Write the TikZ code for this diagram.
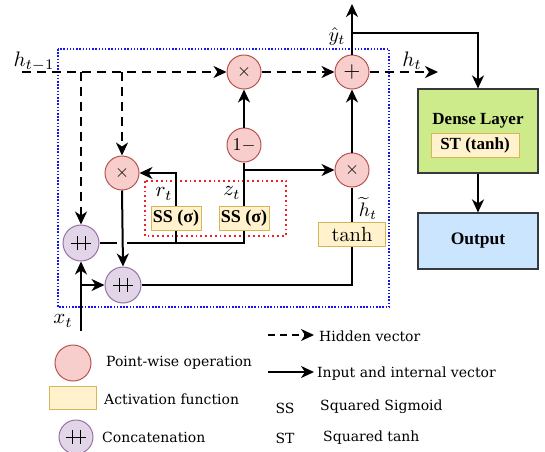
\documentclass[tikz,border=0pt]{standalone}
\usepackage[no-math]{fontspec}
\setmainfont{DejaVu Serif}
\newfontfamily\boxfont{Liberation Serif}
\usetikzlibrary{arrows.meta,calc}
\definecolor{pwf}{HTML}{F8CECC}
\definecolor{pwd}{HTML}{B85450}
\definecolor{catf}{HTML}{E1D5E7}
\definecolor{catd}{HTML}{9673A6}
\definecolor{actf}{HTML}{FFF2CC}
\definecolor{actd}{HTML}{D6B656}
\definecolor{densef}{HTML}{CDEB8B}
\definecolor{outf}{HTML}{CCE5FF}
\definecolor{boxd}{HTML}{36393D}
\definecolor{dotred}{HTML}{F0202A}
\definecolor{dotblue}{HTML}{1515F0}
\newcommand{\scm}[2]{\scalebox{#1}{$#2$}}
\begin{document}
\begin{tikzpicture}[x=1pt,y=-1pt,
  pw/.style={circle, draw=pwd, fill=pwf, line width=1pt, minimum size=34pt, inner sep=0pt},
  cat/.style={circle, draw=catd, fill=catf, line width=1pt, minimum size=36pt, inner sep=0pt},
  act/.style={draw=actd, fill=actf, line width=1pt, inner sep=0pt, minimum height=24pt},
  bigbox/.style={draw=boxd, line width=1.2pt, minimum width=120pt},
  ln/.style={line width=2pt},
  tip/.style={-{Stealth[length=13pt,width=12pt,inset=4pt]}},
  dsh/.style={line width=2pt, dash pattern=on 9pt off 6pt},
  lbl/.style={inner sep=0pt},
  bx/.style={font=\fontsize{17}{18}\selectfont\boxfont\bfseries},
  ssfont/.style={font=\fontsize{18}{18}\selectfont\boxfont\bfseries},
  leg/.style={font=\fontsize{14}{16}\selectfont, anchor=west, inner sep=0pt},
  catsym/.pic={\draw[line width=1pt] (-10,0)--(10,0) (-4,-7)--(-4,7) (4,-7)--(4,7);}
]
\useasboundingbox (0,0) rectangle (545,451);

% frames
\draw[dotblue, line width=1.6pt, dash pattern=on 1.5pt off 1.7pt] (58,49) rectangle (389,307);
\draw[dotred, line width=1.8pt, dash pattern=on 1.8pt off 3pt] (145,181) rectangle (286,236);

% nodes
\node[pw] (m1) at (244,72) {\scm{1.8}{\times}};
\node[pw] (om) at (244,145) {\scm{1.8}{1{-}}};
\node[pw] (pl) at (352,72) {\scm{2.2}{+}};
\node[pw] (m2) at (122,173) {\scm{1.8}{\times}};
\node[pw] (m3) at (352,170) {\scm{1.8}{\times}};
\node[cat] (c1) at (81,243) {};
\node[cat] (c2) at (123,285) {};
\pic at (c1) {catsym};
\pic at (c2) {catsym};
\node[act, ssfont, minimum width=50pt] (ssr) at (176,218) {SS (σ)};
\node[act, ssfont, minimum width=50pt] (ssz) at (244,218) {SS (σ)};
\node[act, minimum width=67pt] (th) at (352,234) {\scm{2.05}{\tanh}};

\node[bigbox, fill=densef, minimum height=84pt] (dense) at (478,131) {};
\node[bx] (dl) at (478,121) {Dense Layer};
\node[act, bx, minimum width=88pt] (st) at (475,145) {ST (tanh)};
\node[bigbox, fill=outf, minimum height=56pt, font=\fontsize{17.5}{18}\selectfont\boxfont\bfseries] (out) at (478,241) {Output};

% coordinates
\coordinate (hin) at (22,72);
\coordinate (hout) at (438,72);
\coordinate (ytop) at (352,4);
\coordinate (xin) at (81,331);
\coordinate (yk) at (352,33);

% labels
\node[lbl] (lh1) at (34,62) {\scm{2.1}{h_{t-1}}};
\node[lbl] (lh) at (412,61) {\scm{2.1}{h_t}};
\node[lbl] (ly) at (337,36) {\scm{2}{\hat{y}_t}};
\node[lbl] (lr) at (164,194) {\scm{2.1}{r_t}};
\node[lbl] (lz) at (232,193) {\scm{2.1}{z_t}};
\node[lbl] (lht) at (368,208) {\scm{1.95}{\widetilde{h}_t}};
\node[lbl] (lx) at (63,321) {\scm{2.1}{x_t}};

% hidden (dashed) connectors
\draw[dsh, tip] (hin) -- (m1.west);
\draw[dsh, tip] (hin -| c1) -- (c1.north);
\draw[dsh, tip] (hin -| m2) -- (m2.north);
\draw[dsh, tip] (m1.east) -- (pl.west);
\draw[dsh, tip] (pl.east) -- (hout);

% solid connectors
\draw[ln, tip] (pl.north) -- (ytop);
\draw[ln, tip] (yk) -| (dense.north);
\draw[ln, tip] (dense.south) -- (out.north);
\draw[ln, tip] (om.north) -- (m1.south);
\draw[ln] (ssz.north) -- (om.south);
\draw[ln, tip] (om.south |- m3.west) -- (m3.west);
\draw[ln, tip] (ssr.north) |- (m2.east);
\draw[ln] (c1.east) -| (ssz.south);
\draw[ln] (ssr.south) -- (ssr.south |- c1.east);
\draw[white, line width=10pt] ($(m2.south |- c1.east)+(0,-3)$) -- ++(0,6);
\draw[ln, tip] (m2.south) -- (c2.north);
\draw[ln] (c2.east) -| (th.south);
\draw[ln] (th.north) -- (m3.south);
\draw[ln, tip] (m3.north) -- (pl.south);
\draw[ln, tip] (xin) -- (c1.south);
\draw[ln, tip] (xin |- c2.west) -- (c2.west);

% legend
\node[pw, minimum size=36pt] (lgp) at (73,363) {};
\node[act, minimum width=47pt, minimum height=23pt] (lga) at (73,398) {};
\node[cat, minimum size=34pt] (lgc) at (76,437) {};
\pic at (lgc) {catsym};
\node[leg] (tp) at (106,363) {Point-wise operation};
\node[leg] (ta) at (104,399) {Activation function};
\node[leg] (tc) at (102,437) {Concatenation};
\coordinate (d1) at (268,335);
\coordinate (d2) at (314,335);
\coordinate (s1) at (268,372);
\coordinate (s2) at (314,372);
\draw[line width=2pt, dash pattern=on 7pt off 5pt, tip] (d1) -- (d2);
\draw[ln, tip] (s1) -- (s2);
\node[leg] (th1) at (319,336) {Hidden vector};
\node[leg] (ti) at (317,374) {Input and internal vector};
\node[leg, anchor=center] (ss) at (285,408) {SS};
\node[leg] (tss) at (320,407) {Squared Sigmoid};
\node[leg, anchor=center] (stl) at (285,438) {ST};
\node[leg] (tst) at (323,438) {Squared tanh};
\end{tikzpicture}
\end{document}
